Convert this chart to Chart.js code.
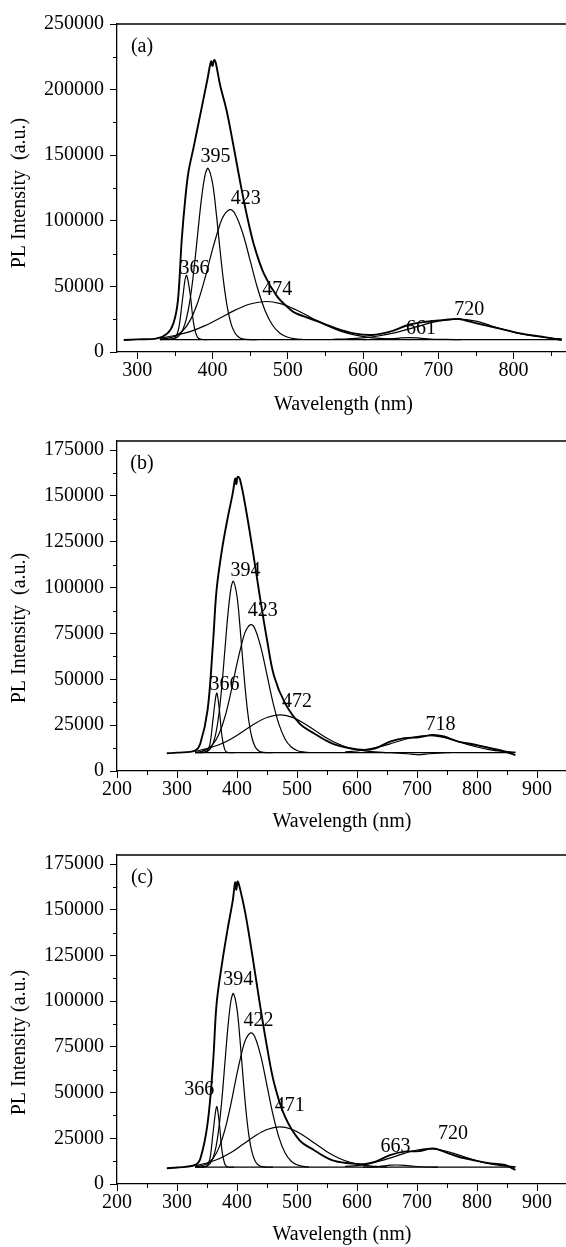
<!DOCTYPE html>
<html>
<head>
<meta charset="utf-8">
<script src="https://cdn.jsdelivr.net/npm/chart.js@4.4.1/dist/chart.umd.min.js"></script>
<style>
  html, body { margin: 0; padding: 0; background: #fff; width: 566px; height: 1247px; overflow: hidden; }
  canvas { position: absolute; left: 0; }
</style>
</head>
<body>
<canvas id="chartA" width="580" height="420" style="top:0px"></canvas>
<canvas id="chartB" width="580" height="420" style="top:420px"></canvas>
<canvas id="chartC" width="580" height="425" style="top:835px"></canvas>
<script>
// ---------- tick labels ----------
var aXTicks = [300, 400, 500, 600, 700, 800];
var bcXTicks = [200, 300, 400, 500, 600, 700, 800, 900];
var aYTicks = [0, 50000, 100000, 150000, 200000, 250000];
var bcYTicks = [0, 25000, 50000, 75000, 100000, 125000, 150000, 175000];

// ---------- panel (a) ----------
var aEnvX = [282, 300, 326, 340, 348, 354, 359, 364, 368, 375, 384, 393, 398, 400, 402, 404, 410, 419, 428, 437, 446, 455, 468, 486, 504, 511, 535, 564, 588, 612, 636, 660, 684, 708, 727, 751, 780, 809, 838, 864];
var aEnvY = [9150, 9600, 10400, 14200, 21900, 39600, 85400, 118400, 137400, 156500, 181900, 207300, 221500, 218000, 222500, 221000, 203500, 183100, 156500, 128600, 103100, 81600, 60000, 42200, 32000, 29500, 24400, 18000, 14200, 13000, 15500, 20600, 23100, 24400, 25200, 21800, 18000, 14200, 11700, 9100];
var aBase = 9500;
var a366X = [330, 345, 350, 355, 360, 365, 370, 375, 380, 385, 395];
var a366Y = [9500, 9700, 10600, 17900, 39800, 58400, 45000, 21100, 11200, 9700, 9500];
var a395X = [340, 350, 355, 360, 365, 370, 375, 380, 385, 390, 394, 400, 405, 410, 415, 420, 425, 430, 435, 440, 450, 460];
var a395Y = [9500, 10400, 12200, 16300, 24800, 39500, 61500, 88700, 115600, 134800, 140000, 128500, 105300, 77400, 51900, 32800, 20700, 14300, 11300, 10100, 9500, 9500];
var a423X = [330, 340, 350, 360, 370, 380, 390, 400, 410, 415, 423, 430, 440, 450, 460, 470, 480, 490, 500, 510, 520];
var a423Y = [9800, 10400, 12100, 16000, 23900, 37400, 56400, 78400, 97600, 104200, 108500, 105200, 90700, 69600, 48200, 31300, 20200, 14100, 11200, 10000, 9600];
var a474X = [330, 350, 370, 390, 410, 430, 450, 471, 490, 510, 530, 550, 570, 590, 610, 630, 650];
var a474Y = [10400, 12600, 15500, 20100, 25900, 31900, 36600, 38500, 36900, 32400, 26500, 20600, 15900, 12800, 11000, 10100, 9600];
var a661X = [600, 620, 640, 650, 662, 675, 690, 710, 730];
var a661Y = [9500, 9600, 10200, 10700, 11000, 10600, 9900, 9550, 9500];
var a720X = [560, 580, 600, 620, 640, 660, 680, 700, 725, 750, 770, 790, 810, 830, 850, 864];
var a720Y = [9700, 10000, 10800, 12200, 14400, 17400, 20700, 23500, 25000, 23500, 20000, 16800, 13800, 11800, 10500, 10000];
var aLabels = [["395", 404, 148900], ["423", 444, 116600], ["366", 376, 63800], ["474", 486, 47300], ["661", 677, 18000], ["720", 741, 32500]];

// ---------- panel (b) ----------
var bEnvX = [283, 300, 330, 339, 351, 360, 366, 375, 384, 393, 397, 399, 401, 405, 414, 426, 438, 450, 462, 480, 504, 528, 558, 588, 612, 631, 655, 679, 703, 727, 745, 769, 793, 823, 847, 864];
var bEnvY = [9650, 10000, 11100, 15100, 33300, 69800, 98900, 120800, 137200, 151700, 159500, 156500, 160500, 159000, 144400, 120800, 95300, 71600, 51500, 37000, 26000, 20600, 15100, 12400, 11500, 12400, 16000, 17900, 18400, 19700, 18800, 16000, 14600, 12400, 10600, 8700];
var bBase = 10000;
var b366X = [330, 345, 350, 355, 360, 366, 370, 375, 380, 385, 395];
var b366Y = [10000, 10100, 10600, 14700, 28200, 42400, 35100, 18900, 11400, 10100, 10000];
var b394X = [340, 350, 355, 360, 365, 370, 375, 380, 385, 390, 394, 400, 405, 410, 415, 420, 425, 430, 435, 440, 450, 460];
var b394Y = [10000, 10700, 11900, 14900, 20900, 31500, 47200, 66800, 86000, 99800, 103500, 95300, 78600, 58600, 40400, 26600, 18000, 13400, 11300, 10400, 10000, 10000];
var b423X = [330, 340, 350, 360, 370, 380, 390, 400, 410, 415, 423, 430, 440, 450, 460, 470, 480, 490, 500, 510, 520];
var b423Y = [10200, 10600, 11800, 14600, 20200, 29600, 43100, 58600, 72100, 76800, 79800, 77500, 67200, 52400, 37300, 25400, 17500, 13200, 11200, 10400, 10100];
var b472X = [330, 350, 370, 390, 410, 430, 450, 471, 490, 510, 530, 550, 570, 590, 610, 630, 650];
var b472Y = [10700, 12200, 14300, 17500, 21600, 25900, 29200, 30600, 29500, 26300, 22100, 17900, 14600, 12300, 11100, 10400, 10000];
var b703X = [650, 670, 690, 703, 715, 735, 755];
var b703Y = [10000, 9800, 9200, 8800, 9200, 9800, 10000];
var b718X = [580, 600, 620, 640, 660, 680, 700, 718, 740, 760, 780, 800, 820, 840, 864];
var b718Y = [10400, 10900, 11900, 13400, 15300, 17300, 18800, 19300, 18600, 16900, 14900, 13100, 11700, 10800, 10300];
var bLabels = [["394", 414, 109500], ["423", 443, 87400], ["366", 379, 47000], ["472", 500, 37900], ["718", 739, 25100]];

// ---------- panel (c) ----------
var cEnvX = [283, 300, 330, 339, 351, 360, 366, 375, 384, 393, 397, 399, 401, 405, 414, 426, 438, 450, 462, 480, 504, 528, 558, 588, 612, 631, 655, 679, 703, 727, 745, 769, 793, 823, 847, 864];
var cEnvY = [8600, 9000, 10400, 14000, 33200, 65900, 98700, 120600, 138800, 155200, 165000, 161000, 165500, 161600, 147900, 124200, 98700, 75000, 55000, 36800, 24000, 18600, 13100, 11300, 10900, 12200, 15800, 17700, 18000, 19500, 17700, 14900, 13100, 11300, 10400, 7700];
var cBase = 9200;
var c366X = [330, 345, 350, 355, 360, 366, 370, 375, 380, 385, 395];
var c366Y = [9200, 9300, 9800, 14000, 27800, 42300, 34900, 18300, 10700, 9300, 9200];
var c394X = [340, 350, 355, 360, 365, 370, 375, 380, 385, 390, 394, 400, 405, 410, 415, 420, 425, 430, 435, 440, 450, 460];
var c394Y = [9200, 9900, 11200, 14200, 20300, 31100, 47000, 66900, 86400, 100400, 104200, 95800, 78900, 58600, 40100, 26100, 17400, 12700, 10500, 9600, 9200, 9200];
var c422X = [330, 340, 350, 360, 370, 380, 390, 400, 410, 415, 423, 430, 440, 450, 460, 470, 480, 490, 500, 510, 520];
var c422Y = [9400, 9900, 11100, 14000, 19900, 29900, 44000, 60400, 74600, 79500, 82700, 80300, 69500, 53800, 37900, 25400, 17100, 12600, 10500, 9600, 9300];
var c471X = [330, 350, 370, 390, 410, 430, 450, 471, 490, 510, 530, 550, 570, 590, 610, 630, 650];
var c471Y = [10000, 11500, 13800, 17200, 21700, 26300, 29800, 31300, 30100, 26700, 22100, 17700, 14100, 11700, 10300, 9600, 9200];
var c663X = [610, 630, 645, 655, 667, 680, 695, 715, 735];
var c663Y = [9200, 9400, 9900, 10300, 10400, 10200, 9700, 9300, 9200];
var c720X = [580, 600, 620, 640, 660, 680, 700, 720, 740, 760, 780, 800, 820, 840, 864];
var c720Y = [9600, 10100, 11100, 12700, 14700, 16900, 18600, 19200, 18600, 16900, 14700, 12700, 11100, 10100, 9500];
var cLabels = [["394", 402, 111500], ["422", 436, 89300], ["366", 337, 51400], ["471", 488, 42600], ["663", 664, 20400], ["720", 760, 27300]];

var serif = "'Liberation Serif', 'Times New Roman', serif";

function pts(xs, ys) {
    return xs.map(function (x, i) { return { x: x, y: ys[i] }; });
}

function line(data, width) {
    return {
        data: data,
        borderColor: "#000",
        borderWidth: width,
        pointRadius: 0,
        tension: 0.35,
        fill: false
    };
}

function fixedTicks(values) {
    return function (scale) {
        scale.ticks = values.map(function (v) { return { value: v }; });
    };
}

// draws top frame, minor ticks, y title, panel letter and peak labels
var decor = {
    id: "decor",
    afterDraw: function (chart) {
        var o = chart.options.plugins.decor;
        var ctx = chart.ctx;
        var area = chart.chartArea;
        var xs = chart.scales.x, ys = chart.scales.y;
        ctx.save();
        ctx.strokeStyle = "#000";
        ctx.lineWidth = 1.3;
        ctx.beginPath();
        ctx.moveTo(area.left, area.top);
        ctx.lineTo(area.right, area.top);
        ctx.lineTo(area.right, area.bottom);
        ctx.stroke();
        ctx.lineWidth = 1;
        ctx.beginPath();
        for (var v = Math.ceil(xs.min / 50) * 50; v <= xs.max; v += 50) {
            if (v % 100 === 0) continue;
            var px = Math.round(xs.getPixelForValue(v)) + 0.5;
            ctx.moveTo(px, area.bottom);
            ctx.lineTo(px, area.bottom + 4);
        }
        var half = o.yStep / 2;
        for (var w = half; w < ys.max; w += o.yStep) {
            var py = Math.round(ys.getPixelForValue(w)) + 0.5;
            ctx.moveTo(area.left, py);
            ctx.lineTo(area.left - 4, py);
        }
        ctx.stroke();
        ctx.fillStyle = "#000";
        ctx.font = "20px " + serif;
        ctx.textAlign = "center";
        ctx.textBaseline = "middle";
        ctx.fillText(o.letter, area.left + 25, area.top + 23);
        o.labels.forEach(function (l) {
            ctx.fillText(l[0], xs.getPixelForValue(l[1]), ys.getPixelForValue(l[2]));
        });
        ctx.translate(20, (area.top + area.bottom) / 2 + o.titleShift);
        ctx.rotate(-Math.PI / 2);
        ctx.fillText(o.yTitle, 0, 0);
        ctx.restore();
    }
};

function makePanel(id, cfg) {
    var canvas = document.getElementById(id);
    var H = canvas.height;
    new Chart(canvas, {
        type: "line",
        data: { datasets: cfg.datasets },
        plugins: [decor],
        options: {
            responsive: false,
            animation: false,
            devicePixelRatio: 1,
            layout: { padding: { top: cfg.top, right: cfg.right, left: 0, bottom: 0 } },
            plugins: {
                legend: { display: false },
                tooltip: { enabled: false },
                decor: { letter: cfg.letter, labels: cfg.labels, yStep: cfg.yStep, yTitle: cfg.yTitle, titleShift: cfg.titleShift }
            },
            scales: {
                x: {
                    type: "linear",
                    min: cfg.xMin,
                    max: cfg.xMax,
                    afterBuildTicks: fixedTicks(cfg.xTicks),
                    afterFit: function (s) { s.height = H - cfg.bottom; },
                    border: { display: true, color: "#000", width: 1.3 },
                    grid: { drawOnChartArea: false, drawTicks: true, tickLength: 7, color: "#000" },
                    ticks: {
                        padding: 0, color: "#000",
                        maxRotation: 0, autoSkip: false,
                        font: { family: serif, size: 20 },
                        callback: function (v) { return String(v); }
                    },
                    title: {
                        display: true, text: "Wavelength (nm)", color: "#000",
                        font: { family: serif, size: 20 },
                        padding: { top: 0, bottom: cfg.titlePad }
                    }
                },
                y: {
                    min: 0,
                    max: cfg.yMax,
                    afterBuildTicks: fixedTicks(cfg.yTicks),
                    afterFit: function (s) { s.width = 117; },
                    border: { display: true, color: "#000", width: 1.3 },
                    grid: { drawOnChartArea: false, drawTicks: true, tickLength: 7, color: "#000" },
                    ticks: {
                        padding: 6, color: "#000", autoSkip: false,
                        font: { family: serif, size: 20 },
                        callback: function (v) { return String(v); }
                    },
                    title: { display: false }
                }
            }
        }
    });
}

makePanel("chartA", {
    letter: "(a)", labels: aLabels, yTitle: "PL Intensity  (a.u.)", titleShift: 5,
    xMin: 273, xMax: 875, yMax: 250000, yStep: 50000,
    xTicks: aXTicks, yTicks: aYTicks,
    top: 24, bottom: 352, right: 10, titlePad: 3,
    datasets: [
        line(pts([330, 864], [aBase, aBase]), 1.2),
        line(pts(a366X, a366Y), 1.2),
        line(pts(a395X, a395Y), 1.2),
        line(pts(a423X, a423Y), 1.2),
        line(pts(a474X, a474Y), 1.2),
        line(pts(a661X, a661Y), 1.2),
        line(pts(a720X, a720Y), 1.2),
        line(pts(aEnvX, aEnvY), 1.9)
    ]
});

makePanel("chartB", {
    letter: "(b)", labels: bLabels, yTitle: "PL Intensity  (a.u.)", titleShift: 22,
    xMin: 200, xMax: 950, yMax: 180000, yStep: 25000,
    xTicks: bcXTicks, yTicks: bcYTicks,
    top: 21, bottom: 351, right: 13, titlePad: 6,
    datasets: [
        line(pts([330, 864], [bBase, bBase]), 1.2),
        line(pts(b366X, b366Y), 1.2),
        line(pts(b394X, b394Y), 1.2),
        line(pts(b423X, b423Y), 1.2),
        line(pts(b472X, b472Y), 1.2),
        line(pts(b703X, b703Y), 1.2),
        line(pts(b718X, b718Y), 1.2),
        line(pts(bEnvX, bEnvY), 1.9)
    ]
});

makePanel("chartC", {
    letter: "(c)", labels: cLabels, yTitle: "PL Intensity (a.u.)", titleShift: 23,
    xMin: 200, xMax: 950, yMax: 180000, yStep: 25000,
    xTicks: bcXTicks, yTicks: bcYTicks,
    top: 20, bottom: 349, right: 13, titlePad: 13,
    datasets: [
        line(pts([330, 864], [cBase, cBase]), 1.2),
        line(pts(c366X, c366Y), 1.2),
        line(pts(c394X, c394Y), 1.2),
        line(pts(c422X, c422Y), 1.2),
        line(pts(c471X, c471Y), 1.2),
        line(pts(c663X, c663Y), 1.2),
        line(pts(c720X, c720Y), 1.2),
        line(pts(cEnvX, cEnvY), 1.9)
    ]
});
</script>
</body>
</html>
